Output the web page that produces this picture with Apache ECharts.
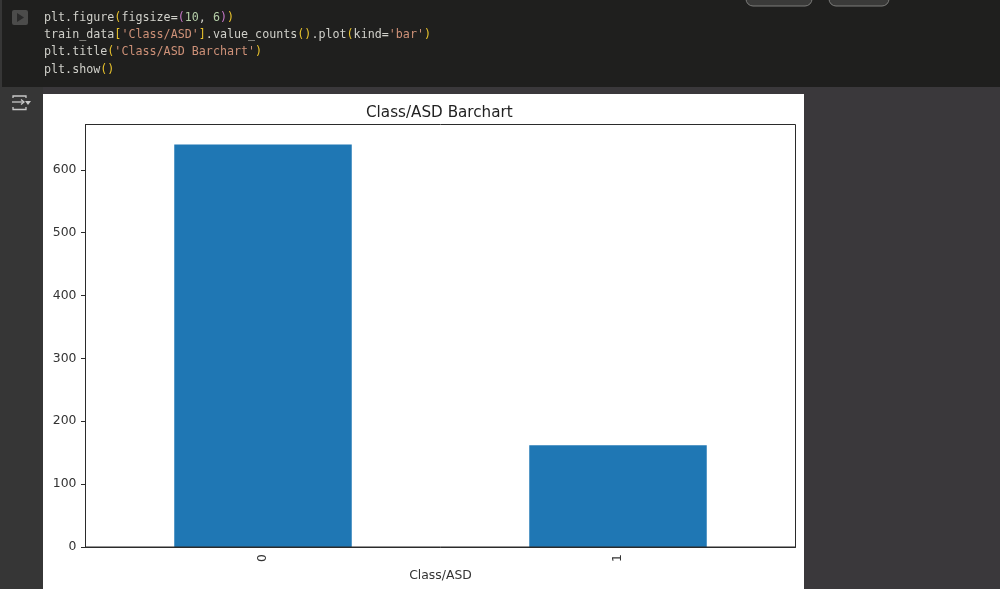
<!DOCTYPE html>
<html>
<head>
<meta charset="utf-8">
<style>
  html, body { margin: 0; padding: 0; background: #383739; }
  #main { width: 1000px; height: 589px; }
</style>
<script src="https://cdn.jsdelivr.net/npm/echarts@6/dist/echarts.min.js"></script>
</head>
<body>
<div id="main"></div>
<script>
const categories = ["0", "1"];
const counts = [640, 162];
const yTicks = [0, 100, 200, 300, 400, 500, 600];

// code cell text, each piece is [rich style name, text]
const codeLines = [
  [["t", "plt.figure"], ["y", "("], ["t", "figsize="], ["p", "("], ["n", "10"], ["t", ", "], ["n", "6"], ["p", ")"], ["y", ")"]],
  [["t", "train_data"], ["y", "["], ["s", "'Class/ASD'"], ["y", "]"], ["t", ".value_counts"], ["y", "()"], ["t", ".plot"], ["y", "("], ["t", "kind="], ["s", "'bar'"], ["y", ")"]],
  [["t", "plt.title"], ["y", "("], ["s", "'Class/ASD Barchart'"], ["y", ")"]],
  [["t", "plt.show"], ["y", "()"]],
];
const codeLineY = [19, 36, 53, 71];

const mono = "DejaVu Sans Mono";
const richColors = { t: "#d0d0ca", y: "#e8c22c", p: "#c678c8", n: "#b5cea8", s: "#ce9178" };

const codeText = codeLines.map((pieces, i) => ({
  type: "text",
  left: 44,
  top: codeLineY[i] - 7,
  z: 5,
  style: {
    text: pieces.map((p) => "{" + p[0] + "|" + p[1] + "}").join(""),
    rich: Object.fromEntries(
      Object.entries(richColors).map(([k, c]) => [k, {
        fill: c, fontFamily: mono, fontSize: 11.7, lineHeight: 14,
      }])
    ),
  },
}));

const iconStroke = { stroke: "#c8c8c8", lineWidth: 1.3, fill: "none" };

const backdrop = [
  { type: "rect", z: 0, shape: { x: 0, y: 0, width: 1000, height: 589 }, style: { fill: "#3a383b" } },
  { type: "rect", z: 0, shape: { x: 0, y: 87, width: 43, height: 502 }, style: { fill: "#363636" } },
  { type: "rect", z: 1, shape: { x: 0, y: 0, width: 1000, height: 87 }, style: { fill: "#1f1f1e" } },
  { type: "rect", z: 1, shape: { x: 0, y: 0, width: 2, height: 87 }, style: { fill: "#363636" } },
  { type: "rect", z: 2, shape: { x: 43, y: 94, width: 761, height: 495 }, style: { fill: "#ffffff" } },
  // toolbar buttons cut off by the top edge
  { type: "rect", z: 2, shape: { x: 746, y: -20, width: 66, height: 26, r: 7 }, style: { fill: "#3a3a39", stroke: "#7c7c7a", lineWidth: 1 } },
  { type: "rect", z: 2, shape: { x: 829, y: -20, width: 60, height: 26, r: 7 }, style: { fill: "#3a3a39", stroke: "#7c7c7a", lineWidth: 1 } },
  // run button
  { type: "rect", z: 3, shape: { x: 12, y: 10, width: 16, height: 15, r: 2 }, style: { fill: "#4c4c4b" } },
  { type: "polygon", z: 4, shape: { points: [[17, 13], [17, 22], [24, 17.5]] }, style: { fill: "#2a2a2a" } },
  // output toggle icon
  { type: "polyline", z: 3, shape: { points: [[13, 98], [13, 96], [26, 96], [26, 98]] }, style: iconStroke },
  { type: "line", z: 3, shape: { x1: 12, y1: 102, x2: 24, y2: 102 }, style: iconStroke },
  { type: "polyline", z: 3, shape: { points: [[21, 99.5], [24, 102], [21, 104.5]] }, style: iconStroke },
  { type: "polyline", z: 3, shape: { points: [[13, 107], [13, 109.5], [26, 109.5], [26, 107]] }, style: iconStroke },
  { type: "polygon", z: 3, shape: { points: [[25, 101], [31, 101], [28, 105]] }, style: { fill: "#c8c8c8" } },
];

const chart = echarts.init(document.getElementById("main"), null, { renderer: "canvas" });
chart.setOption({
  animation: false,
  backgroundColor: "#3a383b",
  textStyle: { fontFamily: "DejaVu Sans" },
  graphic: backdrop.concat(codeText),
  title: {
    text: "Class/ASD Barchart",
    left: 361,
    top: 101,
    z: 20,
    textStyle: { fontFamily: "DejaVu Sans", fontSize: 15.2, fontWeight: "normal", color: "#222" },
  },
  grid: {
    left: 85.5, top: 124.5, width: 710, height: 422.5,
    outerBoundsMode: "none",
    show: true, borderColor: "#2b2b2b", borderWidth: 1, z: 10,
  },
  xAxis: {
    type: "category",
    z: 20,
    data: categories,
    name: "Class/ASD",
    nameLocation: "middle",
    nameGap: 23,
    nameTextStyle: { fontFamily: "DejaVu Sans", fontSize: 12.4, color: "#333" },
    axisLine: { lineStyle: { color: "#2b2b2b", width: 1 } },
    axisTick: { alignWithLabel: true, length: 4, lineStyle: { color: "#2b2b2b" } },
    axisLabel: { rotate: 90, margin: 7, fontFamily: "DejaVu Sans", fontSize: 12.4, color: "#333" },
    splitLine: { show: false },
  },
  yAxis: {
    type: "value",
    z: 20,
    min: 0,
    max: 672,
    interval: yTicks[1] - yTicks[0],
    axisLine: { show: true, lineStyle: { color: "#2b2b2b", width: 1 } },
    axisTick: { show: true, length: 4.5, lineStyle: { color: "#2b2b2b" } },
    axisLabel: {
      margin: 9, fontFamily: "DejaVu Sans", fontSize: 12.4, color: "#333",
      showMaxLabel: false,
    },
    splitLine: { show: false },
  },
  series: [{
    type: "bar",
    data: counts,
    barWidth: "50%",
    itemStyle: { color: "#1f77b4" },
    z: 6,
  }],
});
</script>
</body>
</html>
